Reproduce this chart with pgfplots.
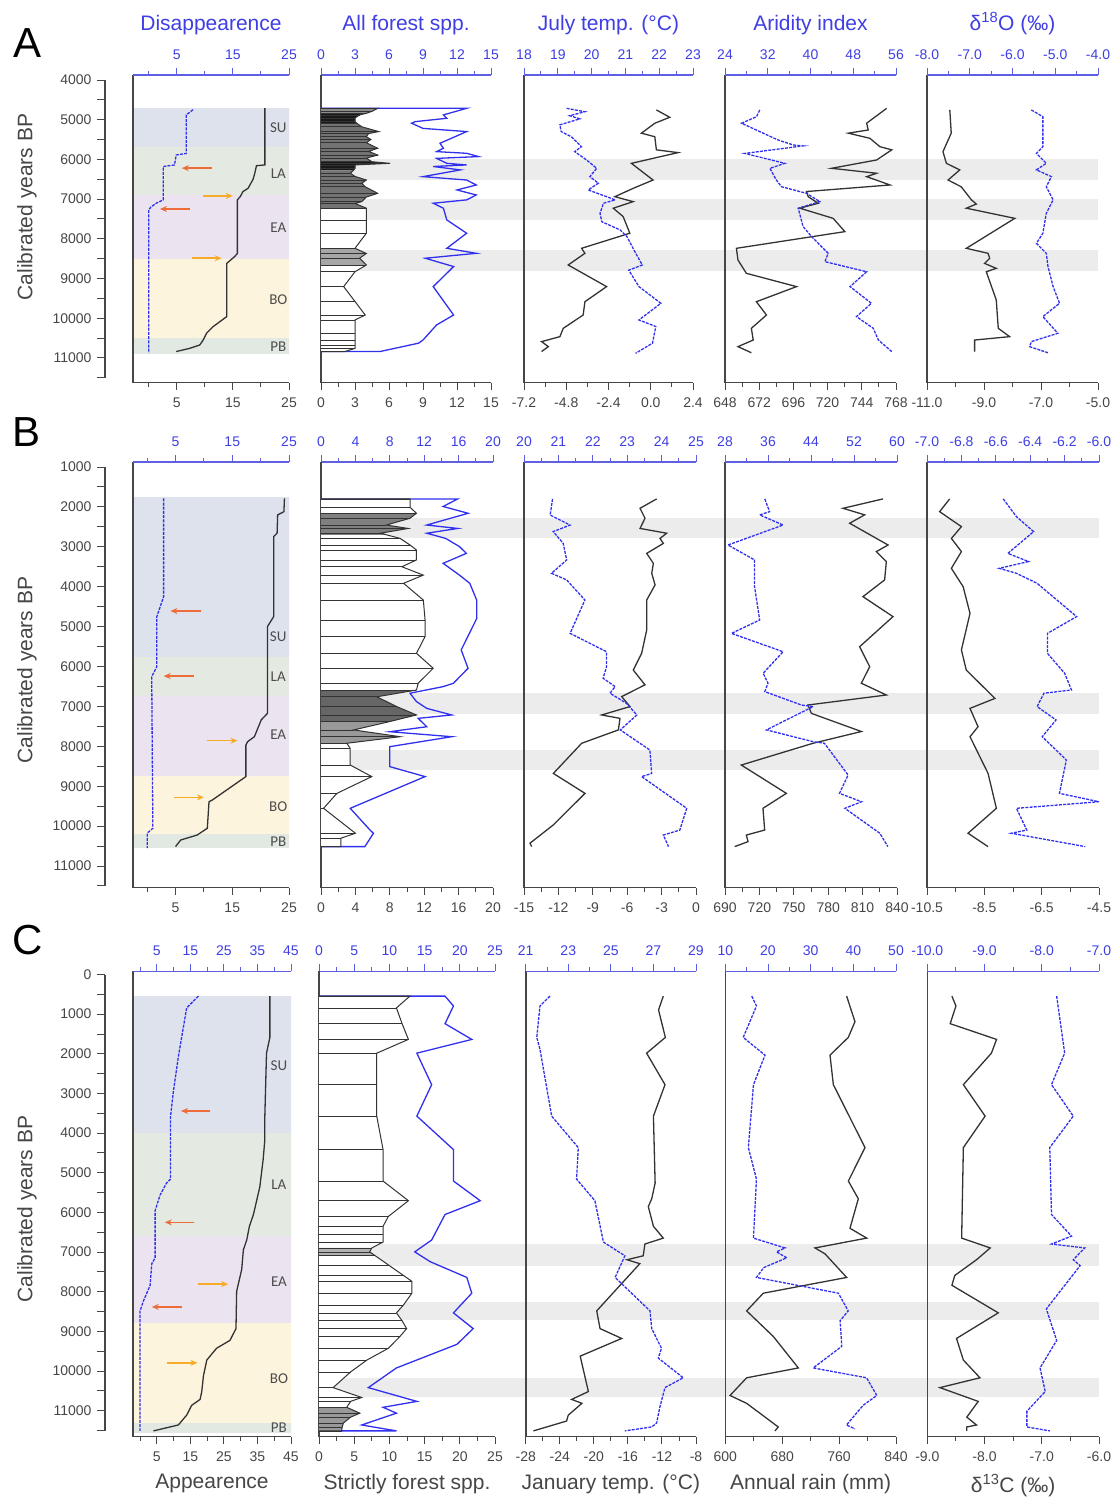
\documentclass[border=0pt]{standalone}
\usepackage{fontspec}
\setmainfont{Liberation Sans}
\newfontfamily\carlito{Carlito}
\usepackage{pgfplots}
\usepackage{pgfplotstable}
\pgfplotsset{compat=1.18}
\usetikzlibrary{arrows.meta}

\definecolor{bltx}{RGB}{62,62,228}
\definecolor{blax}{RGB}{95,95,228}
\definecolor{blln}{RGB}{48,48,238}
\definecolor{ax}{RGB}{70,70,70}
\definecolor{gband}{RGB}{236,236,236}
\definecolor{su}{RGB}{221,226,236}
\definecolor{la}{RGB}{228,234,225}
\definecolor{ea}{RGB}{236,227,240}
\definecolor{bo}{RGB}{253,244,222}
\definecolor{pb}{RGB}{226,232,226}
\definecolor{arR}{RGB}{238,108,58}
\definecolor{arY}{RGB}{246,172,42}

\newcommand{\tkf}{\fontsize{14}{16}\selectfont}
\newcommand{\ttf}{\fontsize{21}{25}\selectfont}

\pgfplotsset{
  every axis/.append style={scale only axis, y dir=reverse, anchor=north west},
  rowA/.style={ymin=3875, ymax=11630, height=307.9pt},
  rowB/.style={ymin=875, ymax=11550, height=425.9pt},
  rowC/.style={ymin=-80, ymax=11660, height=465.6pt},
  blk/.style={axis x line*=bottom, axis y line*=left, ytick=\empty,
    axis line style={-}, x axis line style={line width=1.1pt, ax},
    y axis line style={line width=1.6pt, ax},
    tick align=outside, major tick length=7pt, minor tick length=4pt,
    tick style={ax, line width=0.9pt}, xticklabel shift=4pt,
    xticklabel style={font=\tkf, text=ax},
    xlabel style={font=\ttf, text=ax, yshift=-6pt}},
  blu/.style={axis x line*=top, axis y line=none,
    axis line style={-}, x axis line style={line width=1.1pt, blax},
    tick align=outside, major tick length=7pt, minor tick length=4pt,
    tick style={blax, line width=0.9pt}, xticklabel shift=5pt,
    xticklabel style={font=\tkf, text=bltx},
    xlabel style={font=\ttf, text=bltx, yshift=8pt}},
  yax/.style={axis y line*=left, axis x line=none, xmin=0, xmax=1, width=1pt,
    axis line style={-, line width=1.3pt, ax},
    tick align=outside, major tick length=8pt, minor tick length=8pt,
    tick style={ax, line width=1pt}, scaled y ticks=false, yticklabel shift=2pt,
    yticklabel style={font=\tkf, text=ax},
    /pgf/number format/1000 sep={}, /pgf/number format/assume math mode=true},
  bk/.style={black!80, line width=1.3pt},
  bd/.style={blln, line width=1.3pt, dash pattern=on 3pt off 1.2pt},
  bs/.style={blln, line width=1.3pt},
  poly/.style={black!80, line width=1pt},
}

\newcommand{\band}[3]{\addplot[draw=none, fill=#1] coordinates {(-5,#2) (50,#2) (50,#3) (-5,#3)};}
\newcommand{\gband}[2]{\addplot[draw=none, fill=gband] coordinates {(0,#1) (1,#1) (1,#2) (0,#2)};}
\newcommand{\arr}[4]{\addplot[-{Stealth[length=7pt,width=6pt]}, #1, line width=1.5pt] coordinates {(#2,#4) (#3,#4)};}
\newcommand{\plab}[3]{\node[font=\carlito\fontsize{15}{15}\selectfont, text=black!70] at (axis cs:#2,#3) {#1};}

% strictly forest spp. profiles (value, years BP)
\pgfplotstableread{
x y
0 4714
5.0 4714
4.5 4790
4.0 4840
3.4 4880
3.0 4960
3.0 5050
3.2 5100
3.6 5180
5.1 5300
4.2 5350
4.0 5430
4.4 5500
4.0 5580
5.0 5720
4.2 5800
5.0 5890
4.0 5970
4.5 6060
6.1 6100
3.0 6140
3.0 6230
2.6 6350
3.0 6430
4.0 6520
3.6 6600
3.9 6690
5.0 6855
4.0 6950
3.6 7065
3.0 7110
4.0 7230
4.0 7525
4.0 7860
3.0 8240
4.0 8370
3.4 8490
4.0 8660
3.0 8830
2.0 9205
3.0 9580
3.9 9920
3.0 10045
3.0 10380
3.0 10550
3.0 10680
3.0 10760
2.1 10840
0 10840
}\Apoly

\pgfplotstableread{
x y
0 1800
10.35 1800
10.35 2010
11.1 2160
10.35 2285
7.6 2455
10.15 2540
6.9 2660
9.2 2790
10.35 2955
11.1 3080
11.1 3330
9.4 3500
11.9 3710
9.6 3915
11.9 4335
12.1 4835
12.1 5250
11.1 5670
13.05 6045
11.3 6420
11.1 6590
6.5 6760
8.8 7005
11.1 7215
8.0 7380
3.8 7590
9.2 7760
3.0 7925
3.4 8050
3.4 8470
5.9 8760
1.85 9180
0.3 9555
4.0 10180
2.3 10305
2.3 10515
0 10515
}\Bpoly

\pgfplotstableread{
x y
0 546
12.9 546
11.0 843
11.8 1240
12.7 1637
8.2 1984
8.2 2778
8.2 3571
9.1 4415
9.1 5208
12.7 5704
9.85 6101
9.1 6349
9.1 6548
9.1 6746
7.5 6895
7.2 6994
8.0 7093
10.0 7341
12.0 7589
13.2 7738
13.2 8036
12.0 8333
11.0 8532
11.8 8730
12.45 8929
11.5 9127
9.85 9425
6.8 9722
4.5 10020
2.0 10417
6.06 10665
4.5 10764
3.93 10913
5.8 11061
4.5 11160
3.46 11310
3.3 11409
3.2 11508
0 11508
}\Cpoly

\begin{document}
\begin{tikzpicture}
\useasboundingbox (0,0) rectangle (1115pt,-1498pt);

\node[font=\fontsize{42}{42}\selectfont] at (28pt,-43pt) {A};
\node[font=\fontsize{42}{42}\selectfont] at (27pt,-432pt) {B};
\node[font=\fontsize{42}{42}\selectfont] at (28pt,-940pt) {C};
\node[rotate=90, font=\ttf, text=ax] at (27pt,-207pt) {Calibrated years BP};
\node[rotate=90, font=\ttf, text=ax] at (27pt,-670pt) {Calibrated years BP};
\node[rotate=90, font=\ttf, text=ax] at (27pt,-1209pt) {Calibrated years BP};

%================ ROW A ================
\begin{axis}[rowA, hide axis, xmin=0, xmax=1, width=777pt, at={(321pt,-75pt)}]
\gband{6000}{6520}
\gband{7000}{7520}
\gband{8290}{8810}
\end{axis}

\begin{axis}[yax, ymin=4000, ymax=11500, height=297.75pt, at={(105pt,-80pt)},
  ytick={4000,5000,...,11000}, minor ytick={4500,5500,...,11500}]
\addplot[draw=none] coordinates {(0,5000)};
\end{axis}

% A1 appearance / disappearance
\begin{axis}[rowA, blk, axis on top, at={(133pt,-75pt)}, width=156pt, xmin=-2.8, xmax=25,
  xtick={5,15,25}, xticklabels={5,15,25}, minor xtick={0,10,20}]
\band{su}{4700}{5700}
\band{la}{5700}{6900}
\band{ea}{6900}{8500}
\band{bo}{8500}{10500}
\band{pb}{10500}{10900}
\arr{arR}{11.25}{5.9}{6220}
\arr{arR}{7.3}{2.0}{7250}
\arr{arY}{9.6}{15.0}{6920}
\arr{arY}{7.7}{13.0}{8490}
\addplot[bk] table {
20.7 4710
20.7 6140
19.2 6160
18.9 6350
18.6 6500
17.7 6730
16.8 6810
16.3 6940
15.8 7020
15.8 8370
15.3 8450
13.9 8620
13.9 9960
11.5 10210
10.3 10380
9.7 10550
9.1 10675
7.3 10760
4.9 10840
};
\plab{SU}{23.1}{5200}
\plab{LA}{23.1}{6350}
\plab{EA}{23.1}{7730}
\plab{BO}{23.1}{9540}
\plab{PB}{23.1}{10720}
\end{axis}
\begin{axis}[rowA, blu, at={(133pt,-75pt)}, width=156pt, xmin=-2.8, xmax=25,
  xtick={5,15,25}, xticklabels={5,15,25}, minor xtick={0,10,20}, xlabel={Disappearence}]
\addplot[bd] table {
7.9 4750
6.7 4880
6.7 5850
4.9 5890
4.6 6140
2.6 6180
2.6 7020
1.4 7100
0.4 7200
0 7270
0 10880
};
\end{axis}

% A2 forest spp.
\begin{axis}[rowA, blu, at={(321pt,-75pt)}, width=170pt, xmin=0, xmax=15,
  xtick={0,3,6,9,12,15}, xticklabels={0,3,6,9,12,15}, minor xtick={1.5,4.5,7.5,10.5,13.5},
  xlabel={All forest spp.}]
\addplot[bs] table {
0 4714
12.85 4714
10.8 4880
11.1 4965
8.3 5050
8.0 5090
9.0 5220
12.85 5300
10.5 5595
10.8 5720
10.2 5805
12.85 5847
13.9 5930
10.2 5975
11.1 6100
12.85 6140
9.9 6180
12.3 6265
9.0 6435
12.85 6520
13.7 6645
12.0 6770
13.7 6897
12.85 7020
9.9 7105
10.8 7230
11.1 7525
12.85 7860
11.1 8240
13.7 8366
9.2 8490
11.7 8700
9.9 9205
11.7 9920
10.2 10170
9.0 10550
8.6 10630
5.2 10840
0 10840
};
\end{axis}
\begin{axis}[rowA, blk, at={(321pt,-75pt)}, width=170pt, xmin=0, xmax=15,
  xtick={0,3,6,9,12,15}, xticklabels={0,3,6,9,12,15}, minor xtick={1.5,4.5,7.5,10.5,13.5}]
\addplot[fill=white, draw=none] table {\Apoly};
\addplot[fill=black!45, draw=none] table {
0 4714
5.0 4714
4.5 4790
4.0 4840
0 4840
};
\addplot[fill=black!90, draw=none] table {
0 4840
4.0 4840
3.4 4880
3.0 4960
3.0 5050
3.2 5100
0 5100
};
\addplot[fill=black!55, draw=none] table {
0 5100
3.2 5100
3.6 5180
5.1 5300
4.2 5350
4.0 5430
4.4 5500
4.0 5580
5.0 5720
4.2 5800
5.0 5890
4.0 5970
4.5 6060
0 6060
};
\addplot[fill=black!90, draw=none] table {
0 6060
4.5 6060
6.1 6100
3.0 6140
3.0 6230
2.85 6280
0 6280
};
\addplot[fill=black!55, draw=none] table {
0 6280
2.85 6280
2.6 6350
3.0 6430
4.0 6520
3.6 6600
3.9 6690
5.0 6855
4.0 6950
3.6 7065
3.0 7110
4.0 7230
0 7230
};
\addplot[fill=black!35, draw=none] table {
0 8240
3.0 8240
4.0 8370
3.4 8490
4.0 8660
0 8660
};
\addplot[xcomb, black!80, line width=0.7pt] table {\Apoly};
\addplot[poly] table {\Apoly};
\end{axis}

% A3 July / January temperature
\begin{axis}[rowA, blk, at={(524pt,-75pt)}, width=169pt, xmin=-7.2, xmax=2.4,
  xtick={-7.2,-4.8,-2.4,0,2.4}, xticklabels={-7.2,-4.8,-2.4,0.0,2.4}, minor xtick={-6,-3.6,-1.2,1.2}]
\addplot[bk] table {
0.32 4755
1.08 4940
0.23 5090
-0.53 5340
0.23 5430
0.32 5760
1.55 5830
-1.1 6100
0.13 6520
-1.0 6730
-2.04 6940
-1.0 7065
-2.13 7230
-1.57 7440
-1.19 7860
-3.93 8240
-3.74 8366
-4.69 8660
-2.51 9205
-3.74 9585
-3.84 9920
-4.97 10255
-5.16 10465
-6.2 10590
-5.82 10717
-6.2 10840
};
\end{axis}
\begin{axis}[rowA, blu, at={(524pt,-75pt)}, width=169pt, xmin=18, xmax=23,
  xtick={18,19,20,21,22,23}, xticklabels={18,19,20,21,22,23}, minor xtick={18.5,19.5,20.5,21.5,22.5},
  xlabel={July temp. (°C)}]
\addplot[bd] table {
19.26 4714
19.8 4800
19.35 4900
19.65 4980
19.06 5130
19.1 5300
19.4 5430
19.7 5680
19.5 5805
19.85 6015
20.15 6225
19.95 6435
20.2 6600
19.9 6770
20.7 7020
20.35 7105
20.25 7360
20.3 7570
20.85 7780
21.05 7950
21.25 8280
21.5 8660
21.1 8790
21.4 9205
22.05 9625
21.4 10045
21.9 10210
21.8 10630
21.3 10885
};
\end{axis}

% A4 aridity / rain
\begin{axis}[rowA, blk, at={(725pt,-75pt)}, width=171pt, xmin=648, xmax=768,
  xtick={648,672,696,720,744,768}, xticklabels={648,672,696,720,744,768}, minor xtick={660,684,708,732,756}]
\addplot[bk] table {
761.4 4714
747.4 5090
748.5 5260
734.5 5340
749.7 5470
756.7 5680
765 5760
754.4 6015
722.8 6225
754.4 6350
747.4 6435
763.8 6645
705.2 6810
706.4 6940
713.4 7105
700.5 7230
723.9 7485
732.1 7820
656 8240
657.1 8535
663 8870
698.2 9205
670 9585
677.1 9920
666.5 10255
667.8 10550
657.1 10717
666.5 10870
};
\end{axis}
\begin{axis}[rowA, blu, at={(725pt,-75pt)}, width=171pt, xmin=24, xmax=56,
  xtick={24,32,40,48,56}, xticklabels={24,32,40,48,56}, minor xtick={28,36,44,52},
  xlabel={Aridity index}]
\addplot[bd] table {
30.5 4755
29.9 4925
27.1 5090
30.5 5300
33.9 5510
36.75 5637
38.6 5660
27.7 5850
35.2 6100
32.4 6225
33.6 6520
34.6 6690
39.25 6855
41.75 7065
37.7 7230
38.6 7690
40.2 7945
43.3 8366
42.7 8576
50.5 8830
47.4 9205
51.4 9625
48.6 9960
51.75 10255
52.7 10550
55.2 10840
};
\end{axis}

% A5 isotopes
\begin{axis}[rowA, blk, at={(927pt,-75pt)}, width=171pt, xmin=-11, xmax=-5,
  xtick={-11,-9,-7,-5}, xticklabels={-11.0,-9.0,-7.0,-5.0}, minor xtick={-10,-8,-6}]
\addplot[bk] table {
-10.2 4755
-10.15 5340
-10.44 5805
-10.32 6100
-9.85 6265
-10.26 6520
-9.8 6690
-9.44 7020
-9.27 7125
-9.62 7230
-7.92 7485
-9.62 8240
-8.86 8366
-8.8 8490
-8.98 8620
-8.57 8745
-8.92 8830
-8.57 9540
-8.5 10255
-8.1 10465
-9.33 10550
-9.33 10840
};
\end{axis}
\begin{axis}[rowA, blu, at={(927pt,-75pt)}, width=171pt, xmin=-8, xmax=-4,
  xtick={-8,-7,-6,-5,-4}, xticklabels={-8.0,-7.0,-6.0,-5.0,-4.0}, minor xtick={-7.5,-6.5,-5.5,-4.5},
  xlabel={δ\textsuperscript{18}O (‰)}]
\addplot[bd] table {
-5.56 4755
-5.29 4925
-5.29 5680
-5.44 5850
-5.21 6100
-5.44 6265
-5.09 6435
-5.21 6690
-5.05 7020
-5.21 7360
-5.29 7860
-5.44 8115
-5.21 8366
-5.17 8700
-5.05 9205
-4.9 9625
-5.29 9960
-4.94 10380
-5.56 10590
-5.6 10717
-5.17 10870
};
\end{axis}

%================ ROW B ================
\begin{axis}[rowB, hide axis, xmin=0, xmax=1, width=778pt, at={(321pt,-462pt)}]
\gband{2290}{2780}
\gband{6670}{7190}
\gband{8100}{8600}
\end{axis}

\begin{axis}[yax, ymin=1000, ymax=11500, height=418.95pt, at={(105pt,-467pt)},
  ytick={1000,2000,...,11000}, minor ytick={1500,2500,...,11500}]
\addplot[draw=none] coordinates {(0,5000)};
\end{axis}

\begin{axis}[rowB, blk, axis on top, at={(133pt,-462pt)}, width=156pt, xmin=-2.5, xmax=25,
  xtick={5,15,25}, xticklabels={5,15,25}, minor xtick={0,10,20}]
\band{su}{1750}{5750}
\band{la}{5750}{6750}
\band{ea}{6750}{8750}
\band{bo}{8750}{10200}
\band{pb}{10200}{10550}
\arr{arR}{9.4}{4.1}{4610}
\arr{arR}{8.2}{2.9}{6240}
\arr{arY}{10.6}{15.9}{7860}
\arr{arY}{4.7}{10.0}{9280}
\addplot[bk] table {
24.2 1785
24.1 2120
23.0 2200
22.9 2660
22.3 2745
22.3 4750
21.2 5000
21.2 7175
20.1 7340
19.5 7550
18.9 7760
17.7 7885
17.4 7970
17.4 8760
11.5 9345
10.9 9390
10.6 10055
8.8 10225
5.9 10350
5.0 10515
};
\plab{SU}{23.1}{5260}
\plab{LA}{23.1}{6260}
\plab{EA}{23.1}{7720}
\plab{BO}{23.1}{9520}
\plab{PB}{23.1}{10400}
\end{axis}
\begin{axis}[rowB, blu, at={(133pt,-462pt)}, width=156pt, xmin=-2.5, xmax=25,
  xtick={5,15,25}, xticklabels={5,15,25}, minor xtick={0,10,20}]
\addplot[bd] table {
2.9 1785
2.9 4250
2.3 4500
1.7 4750
1.7 6005
0.8 6255
1.0 10055
0 10180
0 10555
};
\end{axis}

\begin{axis}[rowB, blu, at={(321pt,-462pt)}, width=172pt, xmin=0, xmax=20,
  xtick={0,4,8,12,16,20}, xticklabels={0,4,8,12,16,20}, minor xtick={2,6,10,14,18}]
\addplot[bs] table {
0 1800
15.9 1800
14.2 1990
17.1 2160
12.3 2455
15.9 2540
12.3 2660
14.5 2790
16.1 2995
16.9 3165
14.2 3415
16.1 3710
17.3 3915
18.1 4335
18.1 4800
16.3 5585
17.1 6045
15.4 6420
14.2 6505
10.35 6670
11.1 6880
12.3 7050
15.2 7215
11.3 7300
12.3 7510
8.0 7635
15.2 7760
8.0 8010
8.0 8510
12.1 8760
3.4 9555
5.7 10100
6.1 10180
5.1 10515
0 10515
};
\end{axis}
\begin{axis}[rowB, blk, at={(321pt,-462pt)}, width=172pt, xmin=0, xmax=20,
  xtick={0,4,8,12,16,20}, xticklabels={0,4,8,12,16,20}, minor xtick={2,6,10,14,18}]
\addplot[fill=white, draw=none] table {\Bpoly};
\addplot[fill=black!50, draw=none] table {
0 2160
11.1 2160
10.35 2285
7.6 2455
10.15 2540
6.9 2660
7.6 2700
0 2700
};
\addplot[fill=black!60, draw=none] table {
0 6590
11.1 6590
6.5 6760
8.8 7005
11.1 7215
8.0 7380
0 7380
};
\addplot[fill=black!40, draw=none] table {
0 7380
8.0 7380
3.8 7590
9.2 7760
3.0 7925
0 7925
};
\addplot[xcomb, black!80, line width=0.7pt] table {\Bpoly};
\addplot[poly] table {\Bpoly};
\end{axis}

\begin{axis}[rowB, blk, at={(524pt,-462pt)}, width=172pt, xmin=-15, xmax=0,
  xtick={-15,-12,-9,-6,-3,0}, xticklabels={-15,-12,-9,-6,-3,0}, minor xtick={-13.5,-10.5,-7.5,-4.5,-1.5}]
\addplot[bk] table {
-3.43 1800
-4.88 2035
-4.45 2285
-4.88 2540
-2.56 2660
-3.14 2790
-2.85 2915
-4.3 3165
-3.72 3415
-3.86 3665
-3.57 3955
-4.3 4335
-4.3 5085
-4.74 5670
-5.47 6090
-4.45 6460
-6.48 6755
-5.76 7005
-8.23 7215
-6.63 7300
-6.77 7590
-9.97 7925
-12.44 8680
-9.68 9180
-12.44 9970
-14.48 10430
-14.33 10515
};
\end{axis}
\begin{axis}[rowB, blu, at={(524pt,-462pt)}, width=172pt, xmin=20, xmax=25,
  xtick={20,21,22,23,24,25}, xticklabels={20,21,22,23,24,25}, minor xtick={20.5,21.5,22.5,23.5,24.5}]
\addplot[bd] table {
20.83 1800
20.76 2205
21.34 2455
20.85 2620
21.14 2915
21.24 3330
20.8 3665
21.24 3830
21.77 4335
21.34 5170
22.4 5630
22.4 6005
22.3 6295
22.65 6505
22.5 6670
22.98 6925
23.28 7215
22.8 7590
23.66 8095
23.71 8680
23.42 8760
24.73 9555
24.53 10100
24.05 10225
24.2 10515
};
\end{axis}

\begin{axis}[rowB, blk, at={(725pt,-462pt)}, width=172pt, xmin=690, xmax=840,
  xtick={690,720,750,780,810,840}, xticklabels={690,720,750,780,810,840}, minor xtick={705,735,765,795,825}]
\addplot[bk] table {
827.8 1800
792.9 2035
811.8 2200
798.7 2410
832.2 2955
822 3120
830.7 3370
829.2 3830
810.3 4250
836.5 4750
807.4 5505
816.2 6005
808.9 6420
830.7 6715
762.4 6965
765.3 7175
808.9 7630
766.7 7925
704.2 8470
743.5 9180
723.1 9555
724.6 10100
708.6 10225
710.1 10390
698.4 10515
};
\end{axis}
\begin{axis}[rowB, blu, at={(725pt,-462pt)}, width=172pt, xmin=28, xmax=60,
  xtick={28,36,44,52,60}, xticklabels={28,36,44,52,60}, minor xtick={32,40,48,56}]
\addplot[bd] table {
35.4 1800
36.3 2120
34.45 2200
38.8 2455
28.56 2955
33.5 3330
33.5 4000
34.45 4835
29.2 5170
38.8 5630
35.1 6170
36.0 6420
35.4 6630
42.2 6965
44.4 7005
39.4 7340
35.7 7590
44.4 7885
46.5 7925
50.9 8720
49.3 9180
53.4 9390
50.3 9555
56.8 10180
58.3 10515
};
\end{axis}

\begin{axis}[rowB, blk, at={(927pt,-462pt)}, width=172pt, xmin=-10.5, xmax=-4.5,
  xtick={-10.5,-8.5,-6.5,-4.5}, xticklabels={-10.5,-8.5,-6.5,-4.5}, minor xtick={-9.5,-7.5,-5.5}]
\addplot[bk] table {
-9.71 1800
-10.06 2120
-9.3 2495
-9.65 2790
-9.3 3120
-9.65 3540
-9.24 4000
-9.0 4670
-9.3 5585
-9.13 6090
-8.13 6800
-9.0 7050
-8.72 7510
-9.0 7760
-8.37 8680
-8.08 9555
-9.07 10180
-8.37 10515
};
\end{axis}
\begin{axis}[rowB, blu, at={(927pt,-462pt)}, width=172pt, xmin=-7, xmax=-6,
  xtick={-7,-6.8,-6.6,-6.4,-6.2,-6}, xticklabels={-7.0,-6.8,-6.6,-6.4,-6.2,-6.0},
  minor xtick={-6.9,-6.7,-6.5,-6.3,-6.1}]
\addplot[bd] table {
-6.557 1800
-6.48 2245
-6.38 2620
-6.53 3165
-6.41 3370
-6.58 3540
-6.48 3665
-6.36 3915
-6.13 4750
-6.3 5170
-6.3 5670
-6.2 6170
-6.16 6590
-6.32 6670
-6.36 7005
-6.25 7340
-6.33 7760
-6.19 8345
-6.23 9180
-6.0 9390
-6.48 9555
-6.42 10100
-6.51 10180
-6.08 10515
};
\end{axis}

%================ ROW C ================
\begin{axis}[rowC, hide axis, xmin=0, xmax=1, width=780pt, at={(319pt,-971.3pt)}]
\gband{6800}{7350}
\gband{8250}{8720}
\gband{10180}{10650}
\end{axis}

\begin{axis}[yax, ymin=0, ymax=11500, height=456.1pt, at={(105pt,-974.5pt)},
  ytick={0,1000,...,11000}, minor ytick={500,1500,...,11500}]
\addplot[draw=none] coordinates {(0,5000)};
\end{axis}

\begin{axis}[rowC, blk, axis on top, at={(133pt,-971.3pt)}, width=158pt, xmin=-2.1, xmax=45,
  xtick={5,15,25,35,45}, xticklabels={5,15,25,35,45}, minor xtick={0,10,20,30,40},
  xlabel={Appearence}]
\band{su}{550}{4000}
\band{la}{4000}{6600}
\band{ea}{6600}{8800}
\band{bo}{8800}{11300}
\band{pb}{11300}{11560}
\arr{arR}{21.0}{12.2}{3442}
\arr{arR}{16.2}{7.4}{6250}
\arr{arR}{12.4}{3.5}{8383}
\arr{arY}{17.4}{26.3}{7808}
\arr{arY}{7.9}{17.1}{9792}
\addplot[bk] table {
38.7 546
38.7 1587
37.7 1984
37.2 3571
37.2 4167
36.7 4663
35.7 5357
33.8 6052
32.6 6349
31.8 6696
30.8 6944
30.3 7440
28.8 7986
28.6 8929
26.8 9226
22.8 9425
19.9 9722
18.9 10119
18.4 10516
17.9 10714
15.4 10863
13.9 11111
11.4 11359
4.0 11508
};
\plab{SU}{41.4}{2290}
\plab{LA}{41.4}{5300}
\plab{EA}{41.4}{7740}
\plab{BO}{41.4}{10180}
\plab{PB}{41.4}{11430}
\end{axis}
\begin{axis}[rowC, blu, at={(133pt,-971.3pt)}, width=158pt, xmin=-2.1, xmax=45,
  xtick={5,15,25,35,45}, xticklabels={5,15,25,35,45}, minor xtick={0,10,20,30,40}]
\addplot[bd] table {
17.4 546
13.9 843
12.4 1587
11.4 2083
9.9 2976
9.1 3571
9.1 5159
7.9 5258
6.0 5556
4.5 5952
4.5 7143
3.5 7292
3.0 7837
1.0 8234
0 8482
0 11508
};
\end{axis}

\begin{axis}[rowC, blu, at={(319pt,-971.3pt)}, width=176pt, xmin=0, xmax=25,
  xtick={0,5,10,15,20,25}, xticklabels={0,5,10,15,20,25}, minor xtick={2.5,7.5,12.5,17.5,22.5}]
\addplot[bs] table {
0 546
17.9 546
19.1 794
17.9 1240
21.7 1637
13.9 1984
16.0 2778
13.9 3571
19.1 4415
19.1 5208
22.9 5704
17.9 6052
16.0 6696
13.6 6994
15.8 7242
21.0 7639
21.7 8036
19.1 8532
21.9 8929
19.6 9325
11.0 9921
7.0 10417
13.9 10764
9.1 10913
11.0 11061
6.06 11359
11.0 11508
0 11508
};
\end{axis}
\begin{axis}[rowC, blk, at={(319pt,-971.3pt)}, width=176pt, xmin=0, xmax=25,
  xtick={0,5,10,15,20,25}, xticklabels={0,5,10,15,20,25}, minor xtick={2.5,7.5,12.5,17.5,22.5},
  xlabel={Strictly forest spp.}]
\addplot[fill=white, draw=none] table {\Cpoly};
\addplot[fill=black!30, draw=none] table {
0 6895
7.5 6895
7.2 6994
8.0 7093
0 7093
};
\addplot[fill=black!40, draw=none] table {
0 10913
3.93 10913
5.8 11061
4.5 11160
3.46 11310
3.3 11409
3.2 11508
0 11508
};
\addplot[xcomb, black!80, line width=0.7pt] table {\Cpoly};
\addplot[poly] table {\Cpoly};
\end{axis}

\begin{axis}[rowC, blk, at={(525.7pt,-971.3pt)}, width=170.3pt, xmin=-28, xmax=-8,
  xtick={-28,-24,-20,-16,-12,-8}, xticklabels={-28,-24,-20,-16,-12,-8}, minor xtick={-26,-22,-18,-14,-10},
  xlabel={January temp. (°C)}]
\addplot[bk] table {
-11.84 546
-12.4 893
-11.6 1587
-13.8 1984
-11.64 2778
-13.0 3571
-12.8 5258
-13.2 5655
-13.6 5853
-13.0 6349
-11.84 6647
-14.0 6796
-14.2 7093
-16.1 7192
-14.6 7292
-19.66 8482
-19.27 8929
-16.73 9177
-21.6 9623
-20.64 10516
-22.6 10714
-21.4 10813
-23.0 11111
-23.2 11260
-27.1 11508
};
\end{axis}
\begin{axis}[rowC, blu, at={(525.7pt,-971.3pt)}, width=170.3pt, xmin=21, xmax=29,
  xtick={21,23,25,27,29}, xticklabels={21,23,25,27,29}, minor xtick={22,24,26,28}]
\addplot[bd] table {
22.14 546
21.67 794
21.52 1587
21.67 1885
22.22 3571
23.47 4365
23.39 5159
24.25 5704
24.65 6746
25.66 7093
25.2 7639
26.84 8482
26.92 8929
27.38 9425
27.23 9673
28.4 10169
27.54 10417
27.3 10913
27.15 11310
26.92 11409
25.66 11508
};
\end{axis}

\begin{axis}[rowC, blk, at={(725.3pt,-971.3pt)}, width=170.7pt, xmin=600, xmax=840,
  xtick={600,680,760,840}, xticklabels={600,680,760,840}, minor xtick={640,720,800},
  xlabel={Annual rain (mm)}]
\addplot[bk] table {
770.6 546
782.3 1190
772.9 1587
747.2 2034
751.9 2778
796.4 4365
773 5208
787 5655
775.3 6399
798.8 6647
726.1 6895
740.2 7044
770.6 7639
653.4 8036
630 8482
667.5 9127
702.7 9921
630 10169
606.6 10615
630 10813
674.5 11409
669.8 11508
};
\end{axis}
\begin{axis}[rowC, blu, at={(725.3pt,-971.3pt)}, width=170.7pt, xmin=10, xmax=50,
  xtick={10,20,30,40,50}, xticklabels={10,20,30,40,50}, minor xtick={15,25,35,45}]
\addplot[bd] table {
16.2 546
17.3 794
14.2 1587
19.3 2034
16.6 2778
15.4 4365
17.3 5159
16.6 6647
24.0 6895
22.0 6994
24.4 7143
19.0 7391
17.3 7639
36.5 8036
38.8 8482
36.9 8730
37.3 9375
30.6 9921
43.1 10169
45.5 10615
42.3 10863
38.4 11359
40.4 11458
};
\end{axis}

\begin{axis}[rowC, blk, at={(927.3pt,-971.3pt)}, width=171.7pt, xmin=-9, xmax=-6,
  xtick={-9,-8,-7,-6}, xticklabels={-9.0,-8.0,-7.0,-6.0}, minor xtick={-8.5,-7.5,-6.5},
  xlabel={δ\textsuperscript{13}C (‰)}]
\addplot[bk] table {
-8.57 546
-8.5 794
-8.6 1240
-7.79 1637
-7.88 1984
-8.37 2778
-7.99 3571
-8.37 4365
-8.4 6647
-7.9 6895
-8.14 7192
-8.52 7589
-8.57 7837
-7.76 8532
-8.49 9177
-8.37 9722
-8.08 10169
-8.78 10417
-8.11 10764
-8.31 11161
-8.14 11359
-8.31 11409
-8.31 11508
};
\end{axis}
\begin{axis}[rowC, blu, at={(927.3pt,-971.3pt)}, width=171.7pt, xmin=-10, xmax=-7,
  xtick={-10,-9,-8,-7}, xticklabels={-10.0,-9.0,-8.0,-7.0}, minor xtick={-9.5,-8.5,-7.5}]
\addplot[bd] table {
-7.74 546
-7.6 1984
-7.83 2778
-7.45 3571
-7.86 4365
-7.83 6052
-7.48 6597
-7.83 6796
-7.25 6895
-7.45 7192
-7.33 7341
-7.92 8433
-7.74 9226
-8.03 9921
-7.94 10516
-8.26 11012
-8.26 11409
-7.86 11508
};
\end{axis}

\end{tikzpicture}
\end{document}
